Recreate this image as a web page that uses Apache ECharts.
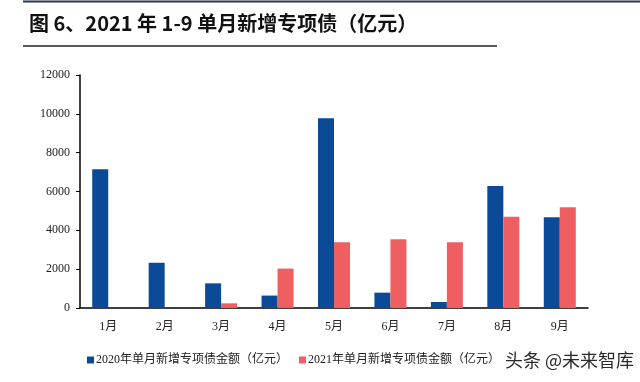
<!DOCTYPE html>
<html><head><meta charset="utf-8">
<script src="https://cdn.jsdelivr.net/npm/echarts@6/dist/echarts.min.js"></script>
<style>html,body{margin:0;padding:0;background:#fff}#c{width:640px;height:382px}</style>
</head><body><div id="c"></div>
<script>
const categories = ['1月','2月','3月','4月','5月','6月','7月','8月','9月'];
const series2020 = [7150, 2330, 1270, 640, 9770, 790, 310, 6280, 4670];
const series2021 = [0, 0, 240, 2030, 3390, 3540, 3390, 4700, 5190];
const seriesNames = ['2020年单月新增专项债金额（亿元）', '2021年单月新增专项债金额（亿元）'];
const yTicks = { min: 0, max: 12000, interval: 2000 };
const titleText = '图 6、2021 年 1-9 单月新增专项债（亿元）';

const chart = echarts.init(document.getElementById('c'));
const serif = "'Liberation Serif', 'Noto Sans CJK SC', serif";
chart.setOption({
  animation: false,
  backgroundColor: '#fff',
  title: {
    text: titleText, left: 24, top: 8,
    textStyle: { fontFamily: "Noto Sans CJK SC", fontWeight: 'bold', fontSize: 20, color: '#111' }
  },
  graphic: [
    { type: 'line', shape: { x1: 23, y1: 1.5, x2: 640, y2: 1.5 }, style: { stroke: '#2a3550', lineWidth: 2 } },
    { type: 'line', shape: { x1: 23, y1: 46, x2: 497, y2: 46 }, style: { stroke: '#222', lineWidth: 1.5 } },
    { type: 'text', left: 505, top: 351, z: 100,
      style: { text: '头条 @未来智库', fill: '#2a2a2a', font: "18px 'Noto Sans CJK SC'" } }
  ],
  legend: {
    left: 82, top: 349, itemWidth: 7, itemHeight: 7, itemGap: 11, icon: 'rect',
    textStyle: { fontFamily: serif, fontSize: 12, color: '#222', padding: [0, 0, 0, -3] },
    data: seriesNames
  },
  grid: { left: 80, right: 52, top: 75, bottom: 74 },
  xAxis: {
    type: 'category', data: categories,
    axisLine: { lineStyle: { color: '#000', width: 1.5 } },
    axisTick: { show: false },
    axisLabel: { fontFamily: serif, fontSize: 12, color: '#222', margin: 13 }
  },
  yAxis: {
    type: 'value', min: yTicks.min, max: yTicks.max, interval: yTicks.interval,
    splitLine: { show: false },
    axisLine: { show: true, lineStyle: { color: '#000', width: 1.5 } },
    axisTick: { show: true, length: 4, lineStyle: { color: '#000' } },
    axisLabel: { fontFamily: serif, fontSize: 12, color: '#222', margin: 10, formatter: v => String(v) }
  },
  series: [
    { name: seriesNames[0], type: 'bar', data: series2020, barWidth: 16, barGap: '0%', itemStyle: { color: '#0b4a97' } },
    { name: seriesNames[1], type: 'bar', data: series2021, barWidth: 16, barGap: '0%', itemStyle: { color: '#ef5f61' } }
  ]
});
</script></body></html>
